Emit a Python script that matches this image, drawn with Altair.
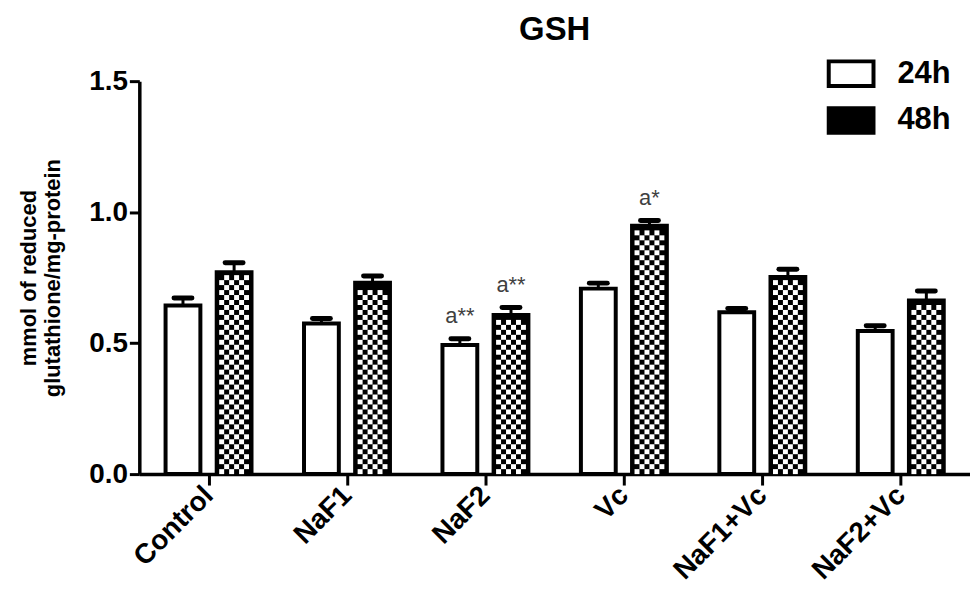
import json
import altair as alt
import pandas as pd

# ---- data ----
groups = ["Control", "NaF1", "NaF2", "Vc", "NaF1+Vc", "NaF2+Vc"]
series = ["24h", "48h"]
mean_24h = [0.644, 0.575, 0.493, 0.708, 0.618, 0.546]
mean_48h = [0.771, 0.730, 0.607, 0.948, 0.752, 0.663]
err_24h = [0.028, 0.019, 0.024, 0.021, 0.014, 0.020]
err_48h = [0.036, 0.026, 0.029, 0.020, 0.030, 0.036]
note_24h = ["", "", "a**", "", "", ""]
note_48h = ["", "", "a**", "a*", "", ""]
y_ticks = [0.0, 0.5, 1.0, 1.5]
x_ticks = list(range(len(groups)))

rows = []
for i, g in enumerate(groups):
    rows.append(dict(group=g, idx=i, series="24h", mean=mean_24h[i], err=err_24h[i], note=note_24h[i]))
    rows.append(dict(group=g, idx=i, series="48h", mean=mean_48h[i], err=err_48h[i], note=note_48h[i]))
df = pd.DataFrame(rows)

# layout constants (pixels -> data units)
PX_X = 6.0 / 835.0
PX_Y = 1.5 / 395.0
OFF = 25.7 * PX_X      # bar centre offset from category tick
HW = 17.5 * PX_X       # bar half width (stroke centre)
CAP = 9.0 * PX_X       # cap half width

# checker texture for the 48h bars (derived from the 48h values)
cx, cy = 5.0 * PX_X, 5.0 * PX_Y
cells = []
for i, v in enumerate(mean_48h):
    xc = i + OFF
    k = 0
    while (k + 1) * cy <= v - 2.5 * PX_Y:
        for c in range(6):
            if (k + c) % 2 == 0:
                cells.append(dict(x0=xc - 3 * cx + c * cx, x1=xc - 2 * cx + c * cx,
                                  y0=k * cy, y1=(k + 1) * cy))
        k += 1
cells_df = pd.DataFrame(cells)

FONT = "Liberation Sans"
label_expr = json.dumps(groups) + "[datum.value]"

x_scale = alt.Scale(domain=[-0.5, len(groups) - 0.5], nice=False, zero=False)
y_scale = alt.Scale(domain=[0, 1.5], nice=False)

x_axis = alt.Axis(values=x_ticks, labelExpr=label_expr, title=None, grid=False,
                  labelAngle=-45, labelAlign="right", labelBaseline="middle",
                  labelFontSize=28, labelFontWeight="bold", labelPadding=6,
                  tickSize=11, tickWidth=3, domainWidth=3.5, labelColor="black",
                  tickColor="black", domainColor="black")
y_axis = alt.Axis(values=y_ticks, format=".1f", title=["mmol of reduced", "glutathione/mg-protein"],
                  grid=False, labelFontSize=28, labelFontWeight="bold", labelPadding=2,
                  tickSize=10, tickWidth=3, domainWidth=3.5, titleFontSize=22,
                  titleFontWeight="bold", titlePadding=24, labelColor="black",
                  titleColor="black", tickColor="black", domainColor="black")

base = alt.Chart(df).transform_calculate(
    xc=f"datum.idx + (datum.series == '24h' ? {-OFF} : {OFF})"
).transform_calculate(
    x0=f"datum.xc - {HW}", x1=f"datum.xc + {HW}",
    c0=f"datum.xc - {CAP}", c1=f"datum.xc + {CAP}",
    top="datum.mean + datum.err", zero="0"
)

bars = base.mark_rect(stroke="black", strokeWidth=4).encode(
    x=alt.X("x0:Q", scale=x_scale, axis=x_axis),
    x2="x1:Q",
    y=alt.Y("mean:Q", scale=y_scale, axis=y_axis),
    y2="zero:Q",
    fill=alt.Fill("series:N", scale=alt.Scale(domain=series, range=["white", "black"]),
                  legend=alt.Legend(title=None, orient="none", legendX=691, legendY=-32,
                                    symbolType="M-1,-0.55H1V0.55H-1Z", symbolSize=2025,
                                    symbolStrokeWidth=4, symbolStrokeColor="black",
                                    labelFontSize=31, labelFontWeight="bold", labelColor="black",
                                    labelOffset=22, rowPadding=2, labelFont=FONT)),
)

checker = alt.Chart(cells_df).mark_rect(fill="white", strokeWidth=0).encode(
    x=alt.X("x0:Q", scale=x_scale, axis=x_axis),
    x2="x1:Q",
    y=alt.Y("y0:Q", scale=y_scale, axis=y_axis),
    y2="y1:Q",
)

stems = base.mark_rule(strokeWidth=3, color="black").encode(
    x=alt.X("xc:Q", scale=x_scale, axis=x_axis),
    y=alt.Y("mean:Q", scale=y_scale, axis=y_axis),
    y2="top:Q",
)

caps = base.mark_rule(strokeWidth=5, color="black", strokeCap="round").encode(
    x=alt.X("c0:Q", scale=x_scale, axis=x_axis),
    x2="c1:Q",
    y=alt.Y("top:Q", scale=y_scale, axis=y_axis),
)

notes = base.mark_text(fontSize=22, font=FONT, color="#404040", align="center",
                       baseline="alphabetic", dy=-16).encode(
    x=alt.X("xc:Q", scale=x_scale, axis=x_axis),
    y=alt.Y("top:Q", scale=y_scale, axis=y_axis),
    text="note:N",
)

chart = alt.layer(bars, checker, stems, caps, notes).properties(
    width=835, height=395,
    title=alt.TitleParams("GSH", fontSize=33, fontWeight="bold", anchor="middle",
                          offset=2, color="black", font=FONT),
    autosize=alt.AutoSizeParams(type="none"),
    padding={"left": 132, "top": 72, "right": 0, "bottom": 120},
).configure(
    font=FONT,
    view=alt.ViewConfig(stroke=None),
    axis=alt.AxisConfig(labelFont=FONT, titleFont=FONT),
)

chart.save("out.html", embed_options={"renderer": "svg", "actions": False})
